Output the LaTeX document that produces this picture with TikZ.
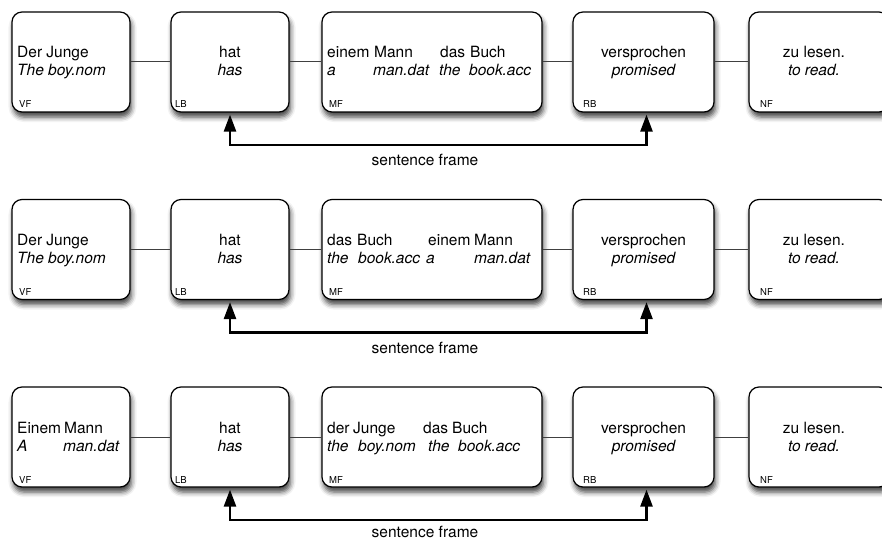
\documentclass[tikz,border=0pt]{standalone}
\usepackage{fontspec}
\setmainfont{TeX Gyre Heros}
\usetikzlibrary{arrows.meta,shadows.blur}

\tikzset{
  field/.style={draw=black, line width=1.2pt, fill=white, rounded corners=10pt,
    inner sep=0pt, minimum height=100pt,
    blur shadow={shadow xshift=1.5pt, shadow yshift=-5pt,
                 shadow blur radius=5pt, shadow opacity=75}},
  word/.style={inner sep=0pt, anchor=base, font=\fontsize{15.5}{18}\selectfont},
  wordl/.style={word, anchor=base west},
  tag/.style={inner sep=0pt, anchor=base west, font=\fontsize{9.5}{11}\selectfont},
  link/.style={draw=black!75, line width=1pt},
  frame/.style={line width=2.5pt,
    {Triangle[length=17pt,width=12pt]}-{Triangle[length=17pt,width=12pt]},
    shorten <=2pt, shorten >=2pt},
}

% fixed-width word column inside a field
\newcommand\wcol[2]{\makebox[#1pt][l]{#2}}

% one sentence: #1 suffix, #2 top edge, #3/#4 Vorfeld lines,
% #5/#6 Mittelfeld lines, #7 baseline of the bracket caption
\newcommand\sentrow[7]{%
  \node[field, minimum width=118pt] (vf#1) at (71,#2+50) {};
  \node[field, minimum width=118pt] (lb#1) at (230,#2+50) {};
  \node[field, minimum width=220pt] (mf#1) at (432,#2+50) {};
  \node[field, minimum width=141pt] (rb#1) at (643.5,#2+50) {};
  \node[field, minimum width=140pt] (nf#1) at (819,#2+50) {};
  \draw[link] (vf#1) -- (lb#1);
  \draw[link] (lb#1) -- (mf#1);
  \draw[link] (mf#1) -- (rb#1);
  \draw[link] (rb#1) -- (nf#1);
  % field contents
  \node[wordl] (vfa#1) at (17,#2+46) {#3};
  \node[wordl] (vfb#1) at (17,#2+64) {\itshape #4};
  \node[word] (lba#1) at (230,#2+46) {hat};
  \node[word] (lbb#1) at (230,#2+64) {\itshape has};
  \node[wordl] (mfa#1) at (327,#2+46) {#5};
  \node[wordl] (mfb#1) at (327,#2+64) {\itshape #6};
  \node[word] (rba#1) at (643.5,#2+46) {versprochen};
  \node[word] (rbb#1) at (643.5,#2+64) {\itshape promised};
  \node[word] (nfa#1) at (814,#2+46) {zu lesen.};
  \node[word] (nfb#1) at (814,#2+64) {\itshape to read.};
  % field names
  \node[tag] (vft#1) at (19,#2+96) {VF};
  \node[tag] (lbt#1) at (175,#2+96) {LB};
  \node[tag] (mft#1) at (329,#2+96) {MF};
  \node[tag] (rbt#1) at (583,#2+96) {RB};
  \node[tag] (nft#1) at (760,#2+96) {NF};
  % sentence frame bracket
  \coordinate (rbf#1) at ([xshift=3pt]rb#1.south);
  \coordinate (sfm#1) at (438,#2+133);
  \draw[frame] (lb#1.south) |- (sfm#1) -| (rbf#1);
  \node[word] (sf#1) at (425,#7) {sentence frame};
}

\begin{document}
\begin{tikzpicture}[x=1pt, y=-1pt]
  \useasboundingbox (0,0) rectangle (882,540);
  \sentrow{1}{12}{Der Junge}{The boy.nom}
    {\wcol{47}{einem}\wcol{66}{Mann}\wcol{30}{das}Buch}
    {\wcol{46}{a}\wcol{66}{man.dat}\wcol{30}{the}book.acc}{165}
  \sentrow{2}{199.5}{Der Junge}{The boy.nom}
    {\wcol{30}{das}\wcol{71}{Buch}\wcol{46}{einem}Mann}
    {\wcol{31}{the}\wcol{68}{book.acc}\wcol{48}{a}man.dat}{353}
  \sentrow{3}{387}{\wcol{47}{Einem}Mann}{\wcol{46}{A}man.dat}
    {\wcol{26}{der}\wcol{70}{Junge}\wcol{29}{das}Buch}
    {\wcol{31}{the}\wcol{70}{boy.nom}\wcol{30}{the}book.acc}{537.5}
\end{tikzpicture}
\end{document}
